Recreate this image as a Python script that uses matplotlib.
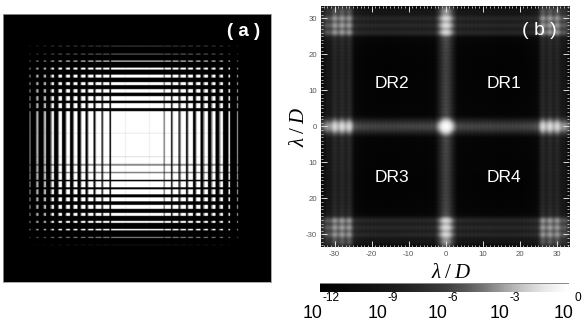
import numpy as np
import matplotlib
matplotlib.use('Agg')
import matplotlib.pyplot as plt
from matplotlib.colors import LinearSegmentedColormap, LogNorm
from matplotlib.ticker import FixedLocator, MultipleLocator

plt.rcParams['font.family'] = ['Liberation Sans', 'DejaVu Sans']
plt.rcParams['mathtext.fontset'] = 'custom'
plt.rcParams['mathtext.rm'] = 'Liberation Serif'
plt.rcParams['mathtext.it'] = 'Liberation Serif:italic'

# Panel (a): mask transmission, slit centre / width / level (image pixel units)
x_slit_centers = [137.4, 125.3, 149.3, 30, 37.7, 45.2, 52.8, 60.5, 68.2, 75.8, 83.5, 91, 98.8, 106.5,
                  167.8, 175.7, 183.3, 190.8, 198.5, 206, 213.8, 221.5, 229.3, 237.3]
x_slit_widths = [53.2, 1.0, 1.0, 0.8, 1.4, 1.8, 2.3, 2.8, 3.3, 3.8, 4.4, 5.0, 5.6, 6.4,
                 6.4, 5.8, 5.2, 4.8, 4.2, 3.7, 3.2, 2.6, 1.6, 0.9]
x_slit_levels = [1, 0.93, 0.93, 0.6, 0.7, 0.8, 1, 1, 1, 1, 1, 1, 1, 1,
                 1, 1, 1, 1, 1, 1, 1, 1, 1, 0.7]
y_slit_centers = [145.7, 133.6, 157.1, 165, 172.7, 46.7, 54.3, 61.7, 69, 76.5, 84, 91.3, 98.7, 105.9,
                  184.5, 192, 199.5, 207, 214.5, 222, 229.7, 237.3, 245]
y_slit_widths = [68.6, 1.2, 1.2, 1.6, 1.8, 1.0, 1.0, 1.0, 1.8, 2.6, 3.2, 3.8, 4.5, 5.2,
                 6.0, 5.2, 4.4, 3.6, 2.8, 2.0, 1.3, 1.0, 1.0]
y_slit_levels = [1, 0.92, 0.88, 0.55, 0.5, 0.25, 0.4, 0.95, 1, 1, 1, 1, 1, 1,
                 1, 1, 1, 1, 1, 1, 1, 0.6, 0.08]
# gray fringe on the outer side of each slit: centre, width, level
x_fringe_centers = [36.4, 43.9, 51.2, 58.6, 66.1, 73.5, 80.9, 88.1, 95.6, 102.9,
                    164.2, 172.4, 180.3, 188, 195.9, 203.7, 211.7, 219.7]
x_fringe_widths = [1.2] * 18
x_fringe_levels = [0.5] * 18

# Panel (b): log10 amplitude profile along one axis, for |u| = 0, 0.5, ... 33.5 lambda/D
profile_half = [0.0, -0.2, -0.8, -1.8, -2.9, -4.1, -5.2, -5.7,
                -5.2, -5.8, -5.3, -5.9, -5.3, -5.9, -5.3, -5.9, -5.4, -5.9, -5.4, -5.9,
                -5.4, -5.9, -5.4, -5.9, -5.4, -5.9, -5.5, -6.0, -5.5, -6.0, -5.5, -6.0,
                -5.5, -6.0, -5.5, -6.0, -5.5, -6.0, -5.4, -6.0, -5.4, -6.0, -5.3, -5.9,
                -5.3, -5.8, -5.2, -5.7, -5.0, -5.5,
                -4.0, -2.5, -1.5, -1.9, -2.7, -2.0, -1.4, -1.9, -2.7, -2.0, -1.5, -2.2,
                -3.1, -3.3, -3.1, -3.7, -4.5, -5.0]
gray_levels = [0, 6, 13, 21, 31, 43, 58, 85, 120, 165, 205, 235, 255]
cbar_ticks = [1e-12, 1e-9, 1e-6, 1e-3, 1e0]
cbar_exponents = ['-12', '-9', '-6', '-3', '0']
cbar_label_nudge = [1.3, 4.4, 2.3, 2.5, 4.7]
b_ticks = [-30, -20, -10, 0, 10, 20, 30]
b_xlabels = ['-30', '-20', '-10', '0', '10', '20', '30']
b_ylabels = ['-30', '20', '10', '0', '10', '20', '30']
region_names = ['DR1', 'DR2', 'DR3', 'DR4']
region_x = [15.7, -14.6, -14.6, 15.7]
region_y = [11.8, 11.8, -14.3, -14.3]

W, H = 586, 327
fig = plt.figure(figsize=(W / 100, H / 100), dpi=100, facecolor='white')


def px_axes(l, t, r, b):
    return fig.add_axes([l / W, 1 - b / H, (r - l) / W, (b - t) / H])


# ---- panel (a)
ax_a = px_axes(3, 13.5, 271, 282)
ga_x = np.arange(3, 271, 0.5) + 0.25
ga_y = np.arange(13.5, 282, 0.5) + 0.25


def profile(grid, c, w, lv):
    p = np.zeros_like(grid)
    for ci, wi, li in zip(c, w, lv):
        p[np.abs(grid - ci) <= wi / 2] = li
    return p


tx = profile(ga_x, x_slit_centers, x_slit_widths, x_slit_levels)
for ci, wi, li in zip(x_fringe_centers, x_fringe_widths, x_fringe_levels):
    tx[np.abs(ga_x - ci) <= wi / 2] = li
ty = profile(ga_y, y_slit_centers, y_slit_widths, y_slit_levels)
ax_a.imshow(np.outer(ty, tx), cmap='gray', vmin=0, vmax=1, aspect='auto',
            extent=[3, 271, 282, 13.5], interpolation='bilinear')
ax_a.set_xticks([])
ax_a.set_yticks([])
for s in ax_a.spines.values():
    s.set_color('#9a9a9a')
    s.set_linewidth(0.6)
ax_a.text(244, 31, '( a )', color='white', fontsize=13.5, fontweight='bold',
          ha='center', va='center')

# ---- panel (b)
half = np.array(profile_half)
prof = np.concatenate([half[:0:-1], half])
log_img = np.add.outer(prof, prof)
cmap = LinearSegmentedColormap.from_list('g', [(g / 255,) * 3 for g in gray_levels], N=512)
ax_b = px_axes(321, 6, 569.3, 246.7)
im = ax_b.imshow(10.0 ** log_img, cmap=cmap, norm=LogNorm(1e-12, 1), aspect='auto', origin='lower',
                 extent=[-33.75, 33.75, -33.75, 33.75], interpolation='bicubic')
ax_b.set_xlim(-33.7, 33.4)
ax_b.set_ylim(-33.4, 33.4)
ax_b.xaxis.set_major_locator(FixedLocator(b_ticks))
ax_b.yaxis.set_major_locator(FixedLocator(b_ticks))
ax_b.set_xticklabels(b_xlabels)
ax_b.set_yticklabels(b_ylabels)
ax_b.xaxis.set_minor_locator(MultipleLocator(1))
ax_b.yaxis.set_minor_locator(MultipleLocator(1))
ax_b.tick_params(which='major', direction='in', length=4, width=0.7, color='#dddddd', top=True, right=True,
                 labelsize=5.6, labelcolor='#555555', pad=3)
ax_b.tick_params(which='minor', direction='in', length=1.5, width=0.6, color='#cccccc', top=True, right=True)
for s in ax_b.spines.values():
    s.set_visible(False)
for name, x, y in zip(region_names, region_x, region_y):
    ax_b.text(x, y, name, color='white', fontsize=12.5, ha='center', va='center')
ax_b.text(25.4, 26.5, '( b )', color='white', fontsize=14, ha='center', va='center')
label = r'$\lambda\;/\;\mathit{D}$'
ax_b.set_xlabel(label, fontsize=15)
ax_b.set_ylabel(label, fontsize=15)
ax_b.xaxis.set_label_coords((451 - 321) / 248.3, -(272 - 246.7) / 240.7, transform=ax_b.transAxes)
ax_b.xaxis.label.set_va('center')
ax_b.yaxis.set_label_coords(-(321 - 299) / 248.3, 0.5, transform=ax_b.transAxes)
ax_b.yaxis.label.set_va('center')

# ---- colour bar
cax = px_axes(319.7, 283.3, 568, 291.7)
cb = fig.colorbar(im, cax=cax, orientation='horizontal')
cb.outline.set_visible(False)
cb.set_ticks(cbar_ticks)
cb.set_ticklabels([''] * len(cbar_ticks))
cb.minorticks_off()
cax.tick_params(length=0)
cax.spines['top'].set_visible(True)
cax.spines['top'].set_color('#888888')
cax.spines['top'].set_linewidth(0.7)
trans = cax.get_xaxis_transform()
for tick, exp, nudge in zip(cbar_ticks, cbar_exponents, cbar_label_nudge):
    # "10" sits below the bar with its exponent raised above the digits' top
    cax.annotate('10', xy=(tick, 0), xycoords=trans, xytext=(nudge * 0.72 + 0.8, -18.6),
                 textcoords='offset points', ha='right', va='baseline', fontsize=12.8, color='black')
    cax.annotate(exp, xy=(tick, 0), xycoords=trans, xytext=(nudge * 0.72 + 1.0, -6.6),
                 textcoords='offset points', ha='left', va='baseline', fontsize=8.6, color='black')

fig.savefig('out.png', dpi=100, facecolor='white')
